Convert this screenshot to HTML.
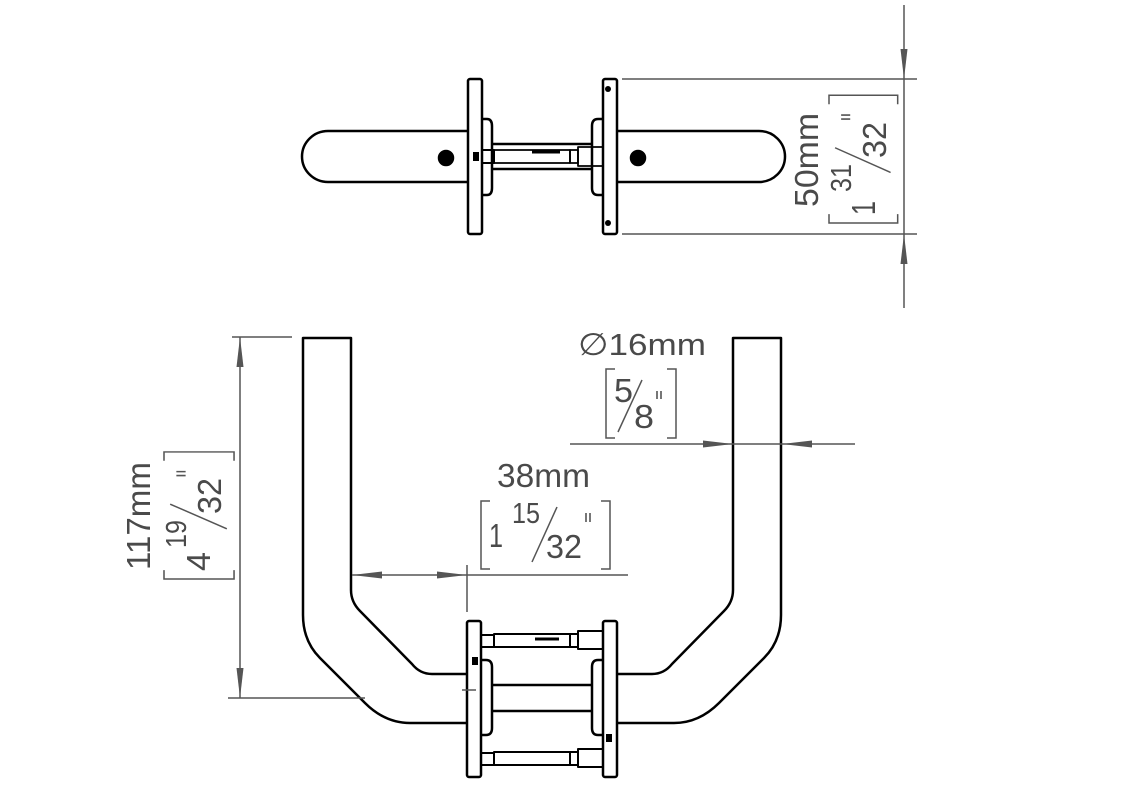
<!DOCTYPE html>
<html><head><meta charset="utf-8"><style>
html,body{margin:0;padding:0;background:#fff;}
svg{display:block;}
text{font-family:"Liberation Sans",sans-serif;fill:#4a4a4a;}
</style></head><body>
<svg width="1130" height="800" viewBox="0 0 1130 800" xmlns="http://www.w3.org/2000/svg">
<defs>
<marker id="a" viewBox="0 0 30 10" refX="30" refY="5" markerWidth="30" markerHeight="10" markerUnits="userSpaceOnUse" orient="auto-start-reverse"><path d="M0,1.5 L30,5 L0,8.5 Z" fill="#555"/></marker>
<g id="frac">
<path d="M9,0 H0 V68 H9 M120,0 H129 V68 H120" stroke="#555" stroke-width="1.5" fill="none"/>
<path d="M51,61 L76,6" stroke="#555" stroke-width="1.5"/>
<path d="M105,12 V21 M109,12 V21" stroke="#555" stroke-width="1.6"/>
</g>
</defs>
<g fill="none" stroke="#000" stroke-width="2.5" stroke-linejoin="round">
<!-- TOP VIEW -->
<path d="M468,131 H328 A26,25.5 0 0 0 328,182 H468"/>
<circle cx="446" cy="158" r="7" fill="#000"/>
<rect x="468" y="79" width="14" height="155" rx="2"/>
<path d="M482,119 H487 Q492,119 492,126 V188 Q492,195 487,195 H482"/>
<path d="M492,144 H592 M492,169 H592"/>
<rect x="482" y="150" width="12" height="13" stroke-width="2"/>
<rect x="494" y="150" width="76" height="13" stroke-width="1.8"/>
<path d="M532,152 H560" stroke-width="3"/>
<rect x="570" y="150" width="8" height="13" stroke-width="1.8"/>
<rect x="578" y="147" width="25" height="19" stroke-width="1.8"/>
<rect x="473" y="152" width="6" height="9" fill="#000" stroke="none"/>
<path d="M603,119 H598 Q592,119 592,126 V188 Q592,195 598,195 H603"/>
<rect x="603" y="79" width="14" height="155" rx="2"/>
<circle cx="608" cy="89" r="3" fill="#000" stroke="none"/>
<circle cx="608" cy="223" r="3" fill="#000" stroke="none"/>
<path d="M617,131 H759 A26,25.5 0 0 1 759,182 H617"/>
<circle cx="638" cy="158" r="7" fill="#000"/>

<!-- BOTTOM VIEW U handle -->
<path d="M467,723 H410 Q385,723 365,703 L320,658 Q303,641 303,615 V338 H351 V590 Q351,602 360,611 L412,664 Q420,674 432,674 H467"/>
<path d="M617,723 H674 Q699,723 719,703 L764,658 Q781,641 781,615 V338 H733 V590 Q733,602 724,611 L672,664 Q664,674 652,674 H617"/>
<rect x="467" y="621" width="14" height="156" rx="2"/>
<rect x="603" y="621" width="14" height="156" rx="2"/>
<path d="M481,660 H486 Q492,660 492,667 V728 Q492,735 486,735 H481"/>
<path d="M603,660 H598 Q592,660 592,667 V728 Q592,735 598,735 H603"/>
<path d="M492,685 H592 M492,711 H592"/>
<g stroke-width="2">
<rect x="481" y="635" width="13" height="12"/>
<rect x="494" y="634" width="76" height="13"/>
<rect x="570" y="634" width="8" height="13"/>
<rect x="578" y="631" width="25" height="18"/>
<rect x="481" y="753" width="13" height="12"/>
<rect x="494" y="752" width="76" height="13"/>
<rect x="570" y="752" width="8" height="13"/>
<rect x="578" y="749" width="25" height="18"/>
</g>
<path d="M535,639 H559" stroke-width="3"/>
<rect x="472" y="657" width="6" height="8" fill="#000" stroke="none"/>
<rect x="606" y="734" width="6" height="8" fill="#000" stroke="none"/>
</g>

<!-- DIMENSIONS -->
<g stroke="#555" stroke-width="1.5" fill="none">
<path d="M622,79 H917 M622,234 H917"/>
<path d="M904,5 V79" marker-end="url(#a)"/>
<path d="M904,308 V234" marker-end="url(#a)"/>
<path d="M904,79 V234"/>
<path d="M232,337 H292 M228,698 H365"/>
<path d="M240,337 V698" marker-start="url(#a)" marker-end="url(#a)"/>
<path d="M352,575 H467" marker-start="url(#a)" marker-end="url(#a)"/>
<path d="M467,575 H628 M467,565 V612 M462,690 H476"/>
<path d="M570,444 H733" marker-end="url(#a)"/>
<path d="M855,444 H782" marker-end="url(#a)"/>
<path d="M733,444 H782"/>
<path d="M615,369 H606 V438 H615 M667,369 H676 V438 H667"/>
<path d="M618,432 L642,380"/>
<path d="M657,391 V399 M661,391 V399" stroke-width="1.6"/>
</g>

<!-- Texts -->
<text x="578" y="355" font-size="31" textLength="128" lengthAdjust="spacingAndGlyphs">∅16mm</text>
<text x="614" y="402" font-size="33" textLength="19" lengthAdjust="spacingAndGlyphs">5</text>
<text x="634" y="428" font-size="33" textLength="20" lengthAdjust="spacingAndGlyphs">8</text>

<text x="497" y="487" font-size="33" textLength="93" lengthAdjust="spacingAndGlyphs">38mm</text>

<!-- 15/32 -->
<g transform="translate(481,501)">
<use href="#frac"/>
<text x="8" y="46" font-size="33" textLength="14" lengthAdjust="spacingAndGlyphs">1</text>
<text x="31" y="22" font-size="29" textLength="28" lengthAdjust="spacingAndGlyphs">15</text>
<text x="65" y="57" font-size="33" textLength="36" lengthAdjust="spacingAndGlyphs">32</text>
</g>

<!-- 117mm -->
<g transform="translate(164,579) rotate(-90)">
<use href="#frac" transform="scale(0.985,1.03)"/>
<text x="9" y="-14" font-size="33" textLength="108" lengthAdjust="spacingAndGlyphs">117mm</text>
<text x="8" y="46" font-size="33" textLength="19" lengthAdjust="spacingAndGlyphs">4</text>
<text x="31" y="22" font-size="29" textLength="28" lengthAdjust="spacingAndGlyphs">19</text>
<text x="65" y="57" font-size="33" textLength="36" lengthAdjust="spacingAndGlyphs">32</text>
</g>

<!-- 50mm -->
<g transform="translate(829,223) rotate(-90)">
<use href="#frac" transform="scale(0.99,1.01)"/>
<text x="16" y="-11" font-size="33" textLength="94" lengthAdjust="spacingAndGlyphs">50mm</text>
<text x="8" y="46" font-size="33" textLength="14" lengthAdjust="spacingAndGlyphs">1</text>
<text x="31" y="22" font-size="29" textLength="28" lengthAdjust="spacingAndGlyphs">31</text>
<text x="65" y="57" font-size="33" textLength="36" lengthAdjust="spacingAndGlyphs">32</text>
</g>
</svg>
</body></html>
